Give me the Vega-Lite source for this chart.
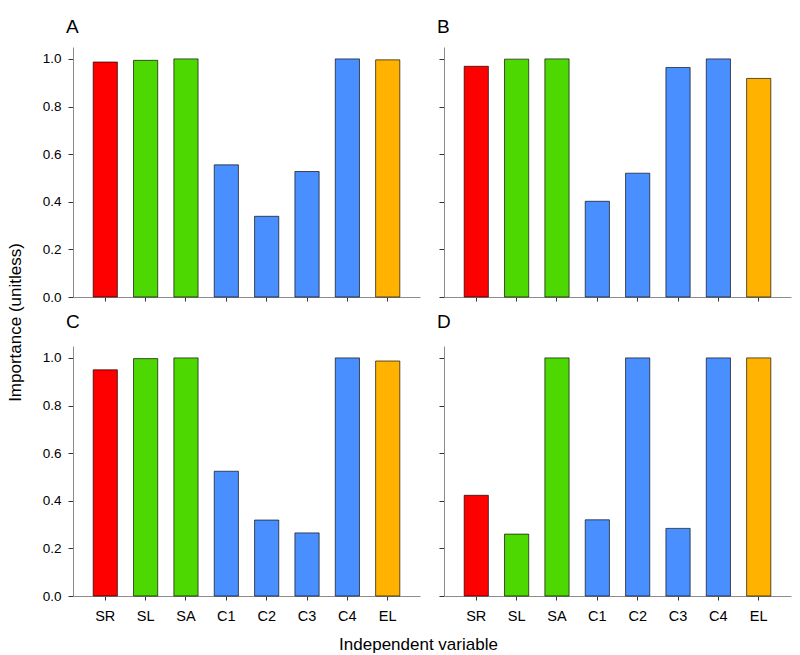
{
  "$schema": "https://vega.github.io/schema/vega-lite/v6.json",
  "background": "white",
  "padding": {"left": 6, "top": 17, "right": 5, "bottom": 5},
  "bounds": "flush",
  "columns": 2,
  "spacing": {"row": 49, "column": 24},
  "config": {
    "font": "Liberation Sans",
    "view": {"stroke": null},
    "axis": {"grid": false, "domainColor": "#8c8c8c", "domainWidth": 1, "tickColor": "#333333", "labelColor": "#000000", "titleColor": "#000000", "labelFont": "Liberation Sans", "titleFont": "Liberation Sans", "titleFontWeight": "normal"},
    "title": {"anchor": "start", "frame": "group", "fontSize": 19, "fontWeight": "normal", "font": "Liberation Sans", "color": "#000000", "baseline": "alphabetic", "offset": 14, "dx": -7}
  },
  "data": {"values": [
    {"panel": "A", "var": "SR", "group": "SR", "value": 0.987},
    {"panel": "A", "var": "SL", "group": "S", "value": 0.994},
    {"panel": "A", "var": "SA", "group": "S", "value": 1.0},
    {"panel": "A", "var": "C1", "group": "C", "value": 0.555},
    {"panel": "A", "var": "C2", "group": "C", "value": 0.339},
    {"panel": "A", "var": "C3", "group": "C", "value": 0.527},
    {"panel": "A", "var": "C4", "group": "C", "value": 1.0},
    {"panel": "A", "var": "EL", "group": "EL", "value": 0.996},
    {"panel": "B", "var": "SR", "group": "SR", "value": 0.969},
    {"panel": "B", "var": "SL", "group": "S", "value": 0.999},
    {"panel": "B", "var": "SA", "group": "S", "value": 1.0},
    {"panel": "B", "var": "C1", "group": "C", "value": 0.402},
    {"panel": "B", "var": "C2", "group": "C", "value": 0.52},
    {"panel": "B", "var": "C3", "group": "C", "value": 0.964},
    {"panel": "B", "var": "C4", "group": "C", "value": 1.0},
    {"panel": "B", "var": "EL", "group": "EL", "value": 0.918},
    {"panel": "C", "var": "SR", "group": "SR", "value": 0.95},
    {"panel": "C", "var": "SL", "group": "S", "value": 0.997},
    {"panel": "C", "var": "SA", "group": "S", "value": 1.0},
    {"panel": "C", "var": "C1", "group": "C", "value": 0.524},
    {"panel": "C", "var": "C2", "group": "C", "value": 0.319},
    {"panel": "C", "var": "C3", "group": "C", "value": 0.265},
    {"panel": "C", "var": "C4", "group": "C", "value": 1.0},
    {"panel": "C", "var": "EL", "group": "EL", "value": 0.987},
    {"panel": "D", "var": "SR", "group": "SR", "value": 0.423},
    {"panel": "D", "var": "SL", "group": "S", "value": 0.26},
    {"panel": "D", "var": "SA", "group": "S", "value": 1.0},
    {"panel": "D", "var": "C1", "group": "C", "value": 0.32},
    {"panel": "D", "var": "C2", "group": "C", "value": 1.0},
    {"panel": "D", "var": "C3", "group": "C", "value": 0.284},
    {"panel": "D", "var": "C4", "group": "C", "value": 1.0},
    {"panel": "D", "var": "EL", "group": "EL", "value": 1.0}
  ]},
  "concat": [
    {
      "title": {"text": "A", "offset": 10.5},
      "width": 347, "height": 250,
      "transform": [{"filter": "datum.panel === 'A'"}],
      "mark": {"type": "bar", "stroke": "#000000", "strokeOpacity": 0.65, "strokeWidth": 1},
      "encoding": {
        "x": {"field": "var", "type": "nominal", "sort": null,
          "scale": {"domain": ["SR", "SL", "SA", "C1", "C2", "C3", "C4", "EL"], "paddingInner": 0.4, "paddingOuter": 0.5},
          "axis": {"labels": false, "title": null, "tickSize": 4}},
        "y": {"field": "value", "type": "quantitative", "scale": {"domain": [0, 1.05], "nice": false},
          "axis": {"values": [0, 0.2, 0.4, 0.6, 0.8, 1.0], "format": ".1f", "labelFontSize": 13.5, "tickSize": 5, "labelPadding": 7,
            "title": "Importance (unitless)", "titleFontSize": 17, "titleX": -53, "titleY": 275, "titleAngle": -90, "titleAlign": "center", "titleBaseline": "alphabetic"}},
        "color": {"field": "group", "type": "nominal", "scale": {"domain": ["SR", "S", "C", "EL"], "range": ["#ff0000", "#4cd800", "#4a8fff", "#ffb300"]}, "legend": null}
      }
    },
    {
      "title": {"text": "B", "offset": 10.5},
      "width": 347, "height": 250,
      "transform": [{"filter": "datum.panel === 'B'"}],
      "mark": {"type": "bar", "stroke": "#000000", "strokeOpacity": 0.65, "strokeWidth": 1},
      "encoding": {
        "x": {"field": "var", "type": "nominal", "sort": null,
          "scale": {"domain": ["SR", "SL", "SA", "C1", "C2", "C3", "C4", "EL"], "paddingInner": 0.4, "paddingOuter": 0.5},
          "axis": {"labels": false, "title": null, "tickSize": 4}},
        "y": {"field": "value", "type": "quantitative", "scale": {"domain": [0, 1.05], "nice": false},
          "axis": {"values": [0, 0.2, 0.4, 0.6, 0.8, 1.0], "labels": false, "tickSize": 5, "title": null}},
        "color": {"field": "group", "type": "nominal", "scale": {"domain": ["SR", "S", "C", "EL"], "range": ["#ff0000", "#4cd800", "#4a8fff", "#ffb300"]}, "legend": null}
      }
    },
    {
      "title": {"text": "C", "offset": 14},
      "width": 347, "height": 250,
      "transform": [{"filter": "datum.panel === 'C'"}],
      "mark": {"type": "bar", "stroke": "#000000", "strokeOpacity": 0.65, "strokeWidth": 1},
      "encoding": {
        "x": {"field": "var", "type": "nominal", "sort": null,
          "scale": {"domain": ["SR", "SL", "SA", "C1", "C2", "C3", "C4", "EL"], "paddingInner": 0.4, "paddingOuter": 0.5},
          "axis": {"labelAngle": 0, "labelFontSize": 14.5, "tickSize": 4, "labelPadding": 9,
            "title": "Independent variable", "titleFontSize": 17, "titleX": 345, "titleY": 53, "titleAlign": "center", "titleBaseline": "alphabetic"}},
        "y": {"field": "value", "type": "quantitative", "scale": {"domain": [0, 1.05], "nice": false},
          "axis": {"values": [0, 0.2, 0.4, 0.6, 0.8, 1.0], "format": ".1f", "labelFontSize": 13.5, "tickSize": 5, "labelPadding": 7, "title": null}},
        "color": {"field": "group", "type": "nominal", "scale": {"domain": ["SR", "S", "C", "EL"], "range": ["#ff0000", "#4cd800", "#4a8fff", "#ffb300"]}, "legend": null}
      }
    },
    {
      "title": {"text": "D", "offset": 14},
      "width": 347, "height": 250,
      "transform": [{"filter": "datum.panel === 'D'"}],
      "mark": {"type": "bar", "stroke": "#000000", "strokeOpacity": 0.65, "strokeWidth": 1},
      "encoding": {
        "x": {"field": "var", "type": "nominal", "sort": null,
          "scale": {"domain": ["SR", "SL", "SA", "C1", "C2", "C3", "C4", "EL"], "paddingInner": 0.4, "paddingOuter": 0.5},
          "axis": {"labelAngle": 0, "labelFontSize": 14.5, "tickSize": 4, "labelPadding": 9, "title": null}},
        "y": {"field": "value", "type": "quantitative", "scale": {"domain": [0, 1.05], "nice": false},
          "axis": {"values": [0, 0.2, 0.4, 0.6, 0.8, 1.0], "labels": false, "tickSize": 5, "title": null}},
        "color": {"field": "group", "type": "nominal", "scale": {"domain": ["SR", "S", "C", "EL"], "range": ["#ff0000", "#4cd800", "#4a8fff", "#ffb300"]}, "legend": null}
      }
    }
  ]
}
